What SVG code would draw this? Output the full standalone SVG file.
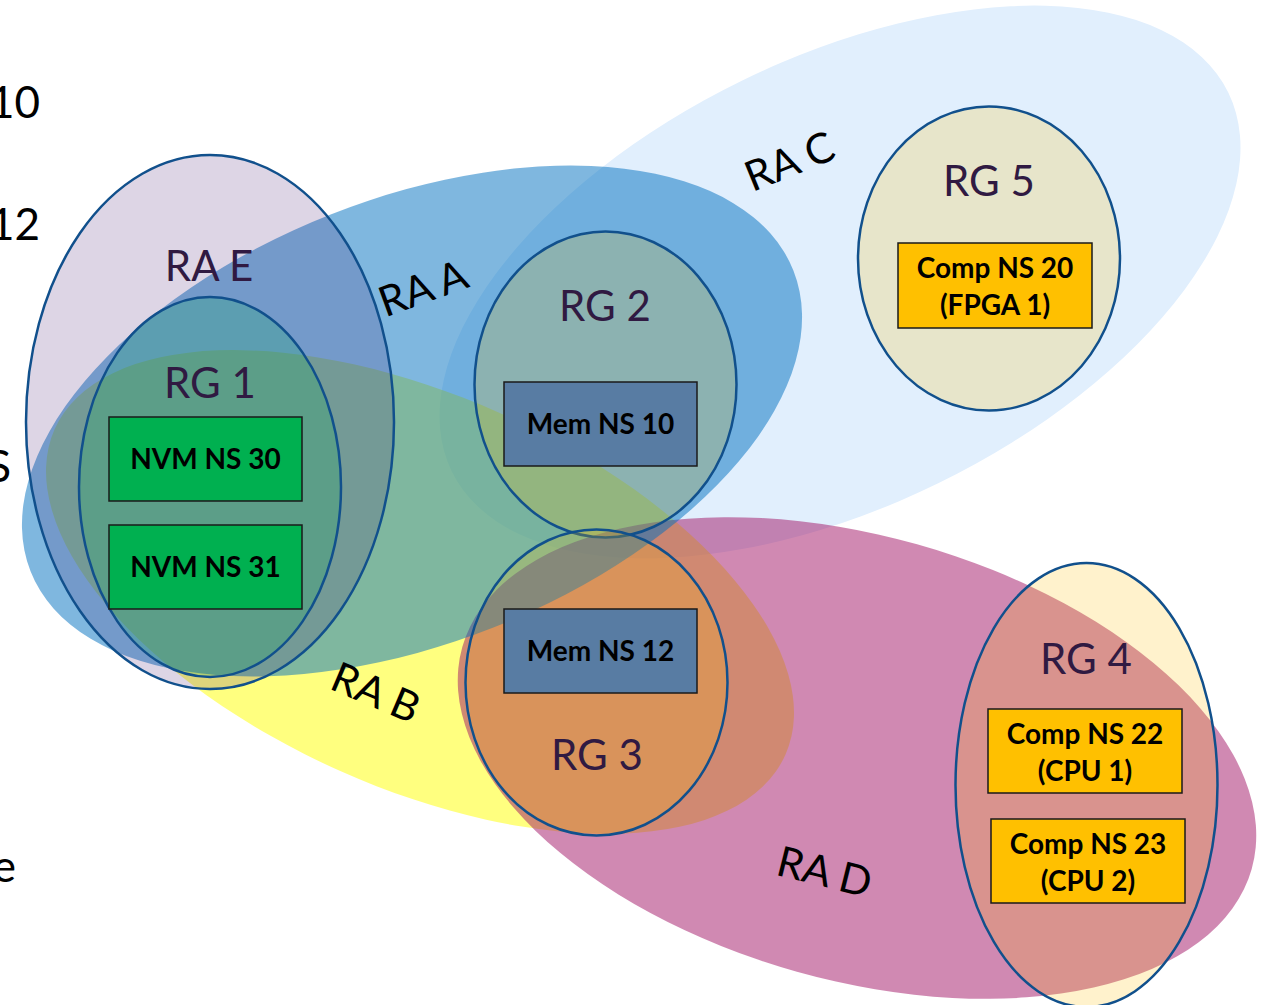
<svg xmlns="http://www.w3.org/2000/svg" width="1266" height="1005" viewBox="0 0 1266 1005">
  <style>
    .rg { stroke: #11508c; stroke-width: 2.5; }
    .gold { fill: #ffc000; fill-opacity: 0.2; }
    .green { fill: #00b050; fill-opacity: 0.2; }
    .box { stroke: #1a1a1a; stroke-width: 1.5; }
    .nvm { fill: #00b050; }
    .mem { fill: #587ca3; }
    .comp { fill: #ffc000; }
    .lbl { font-family: Lato, "Open Sans", "Liberation Sans", sans-serif; font-size: 42px; fill: #301a42; text-anchor: middle; }
    .ra { font-family: Lato, "Open Sans", "Liberation Sans", sans-serif; font-size: 42px; fill: #000; text-anchor: middle; }
    .bx { font-family: Lato, "Open Sans", "Liberation Sans", sans-serif; font-size: 28px; font-weight: bold; fill: #000; text-anchor: middle; }
    .side { font-family: Lato, "Open Sans", "Liberation Sans", sans-serif; font-size: 44px; fill: #000; }
  </style>
  <rect width="1266" height="1005" fill="#ffffff"/>

  <!-- text cut off at the left edge -->
  <g id="side-text">
    <text class="side" x="40" y="118" text-anchor="end">10</text>
    <text class="side" x="40" y="240" text-anchor="end">12</text>
    <text class="side" x="11" y="482" text-anchor="end">S</text>
    <text class="side" x="16" y="882" text-anchor="end">e</text>
  </g>

  <!-- resource areas -->
  <g id="ra-c"><ellipse cx="840" cy="282" rx="432" ry="224" transform="rotate(-26 840 282)" fill="#e1effd"/></g>
  <g id="ra-b"><ellipse cx="420" cy="592" rx="400" ry="196" transform="rotate(24 420 592)" fill="#ffff00" fill-opacity="0.5"/></g>
  <g id="ra-d"><ellipse cx="857" cy="758" rx="410" ry="222" transform="rotate(15.7 857 758)" fill="#a11365" fill-opacity="0.5"/></g>
  <g id="ra-a"><ellipse cx="412" cy="421" rx="410" ry="222" transform="rotate(-21.5 412 421)" fill="#0070c0" fill-opacity="0.5"/></g>
  <g id="ra-e">
    <ellipse class="rg" cx="210" cy="422" rx="184" ry="267" fill="#42166e" fill-opacity="0.18"/>
    <text class="lbl" x="209" y="281">RA E</text>
  </g>

  <!-- area labels -->
  <text class="ra" x="428" y="302" transform="rotate(-20 428 302)">RA A</text>
  <text class="ra" x="795" y="175" transform="rotate(-22 795 175)">RA C</text>
  <text class="ra" x="370" y="706" transform="rotate(23 370 706)">RA B</text>
  <text class="ra" x="821" y="886" transform="rotate(14 821 886)">RA D</text>

  <!-- resource groups -->
  <g id="rg1">
    <ellipse class="rg green" cx="210" cy="487" rx="131" ry="190"/>
    <text class="lbl" x="210" y="398">RG 1</text>
  </g>
  <g id="rg2">
    <ellipse class="rg gold" cx="605.5" cy="384.5" rx="131" ry="153"/>
    <text class="lbl" x="605" y="321">RG 2</text>
  </g>
  <g id="rg3">
    <ellipse class="rg gold" cx="596.5" cy="682.5" rx="131" ry="153"/>
    <text class="lbl" x="597" y="770">RG 3</text>
  </g>
  <g id="rg4">
    <ellipse class="rg gold" cx="1086.5" cy="785" rx="131" ry="222"/>
    <text class="lbl" x="1086" y="674">RG 4</text>
  </g>
  <g id="rg5">
    <ellipse class="rg gold" cx="989" cy="258.5" rx="131" ry="152"/>
    <text class="lbl" x="989" y="196">RG 5</text>
  </g>

  <!-- namespaces -->
  <g id="nvm30">
    <rect class="box nvm" x="109" y="417" width="193" height="84"/>
    <text class="bx" x="205.5" y="469">NVM NS 30</text>
  </g>
  <g id="nvm31">
    <rect class="box nvm" x="109" y="525" width="193" height="84"/>
    <text class="bx" x="205.5" y="577">NVM NS 31</text>
  </g>
  <g id="mem10">
    <rect class="box mem" x="504" y="382" width="193" height="84"/>
    <text class="bx" x="600.5" y="434">Mem NS 10</text>
  </g>
  <g id="mem12">
    <rect class="box mem" x="504" y="609" width="193" height="84"/>
    <text class="bx" x="600.5" y="661">Mem NS 12</text>
  </g>
  <g id="comp20">
    <rect class="box comp" x="898" y="243" width="194" height="85"/>
    <text class="bx" x="995" y="278">Comp NS 20</text>
    <text class="bx" x="995" y="315">(FPGA 1)</text>
  </g>
  <g id="comp22">
    <rect class="box comp" x="988" y="709" width="194" height="84"/>
    <text class="bx" x="1085" y="744">Comp NS 22</text>
    <text class="bx" x="1085" y="781">(CPU 1)</text>
  </g>
  <g id="comp23">
    <rect class="box comp" x="991" y="819" width="194" height="84"/>
    <text class="bx" x="1088" y="854">Comp NS 23</text>
    <text class="bx" x="1088" y="891">(CPU 2)</text>
  </g>

  <g id="connectors"/>
</svg>
